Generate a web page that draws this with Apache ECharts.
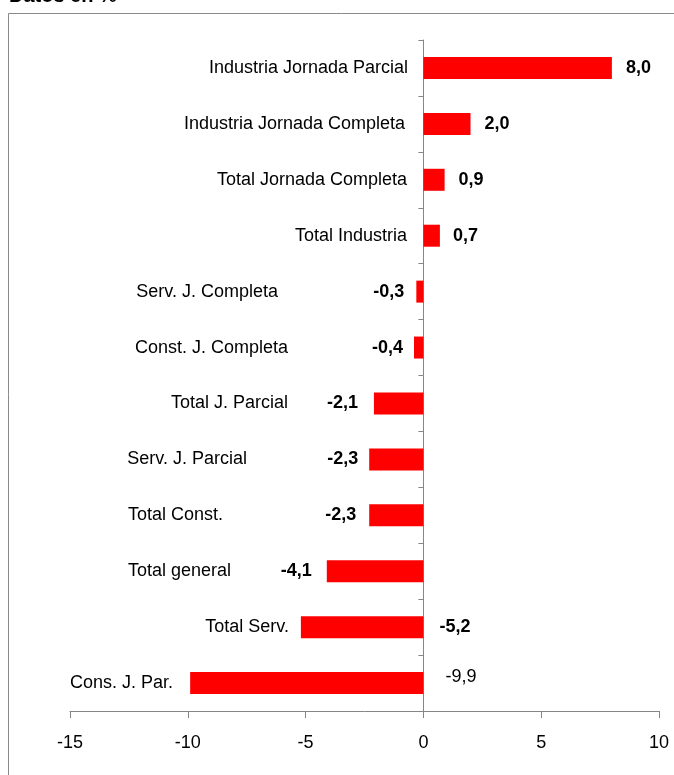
<!DOCTYPE html>
<html>
<head>
<meta charset="utf-8">
<style>
  html, body { margin: 0; padding: 0; background: #fff; }
  #chart { width: 674px; height: 775px; }
</style>
<script src="https://cdn.jsdelivr.net/npm/echarts@6/dist/echarts.min.js"></script>
</head>
<body>
<div id="chart"></div>
<script>
// ---- data ----
const categories = [
  'Industria Jornada Parcial',
  'Industria Jornada Completa',
  'Total Jornada Completa',
  'Total Industria',
  'Serv. J. Completa',
  'Const. J. Completa',
  'Total J. Parcial',
  'Serv. J. Parcial',
  'Total Const.',
  'Total general',
  'Total Serv.',
  'Cons. J. Par.'
];
const values = [8.0, 2.0, 0.9, 0.7, -0.3, -0.4, -2.1, -2.3, -2.3, -4.1, -5.2, -9.9];
const xTicks = [-15, -10, -5, 0, 5, 10];
const titleText = 'Datos en %';

// ---- layout (label placement, not data) ----
const nameLabelPad = [0, 3, 1, 1, 130, 120, 120, 161, 185, 177, 119, 235];
const valueLabelPlace = [
  {position: 'right', distance: 14},
  {position: 'right', distance: 14},
  {position: 'right', distance: 14},
  {position: 'right', distance: 13},
  {position: 'left', distance: 12},
  {position: 'left', distance: 11},
  {position: 'left', distance: 16},
  {position: 'left', distance: 11},
  {position: 'left', distance: 13},
  {position: 'left', distance: 15},
  {position: 'right', distance: 16},
  {position: 'right', distance: 22, offset: [0, -6], fontWeight: 'normal'}
];

const FONT = 'Arial, "Liberation Sans", sans-serif';
const fmt = v => v.toFixed(1).replace('.', ',');

const GRID_LEFT = 70;
const ZERO_X = 424;

const rich = {};
nameLabelPad.forEach((p, i) => {
  rich['r' + i] = {padding: [0, p, 0, 0], fontSize: 18, fontFamily: FONT, color: '#000'};
});

const seriesData = values.map((v, i) => ({
  value: v,
  label: Object.assign({show: true}, valueLabelPlace[i])
}));

const chart = echarts.init(document.getElementById('chart'), null, {renderer: 'canvas'});
chart.setOption({
  backgroundColor: '#fff',
  animation: false,
  title: {
    text: titleText,
    left: 9,
    top: -14,
    padding: 0,
    textStyle: {fontSize: 20, fontWeight: 'bold', fontFamily: FONT, color: '#000'}
  },
  graphic: [{
    type: 'rect',
    silent: true,
    shape: {x: 8.5, y: 13.5, width: 800, height: 900},
    style: {fill: null, stroke: '#8a8a8a', lineWidth: 1}
  }],
  grid: {left: GRID_LEFT, right: 15, top: 40, bottom: 64, outerBoundsMode: 'none'},
  xAxis: {
    type: 'value',
    min: xTicks[0],
    max: xTicks[xTicks.length - 1],
    interval: xTicks[1] - xTicks[0],
    axisLine: {show: true, lineStyle: {color: '#868686', width: 1}},
    axisTick: {show: true, length: 7, lineStyle: {color: '#868686'}},
    splitLine: {show: false},
    axisLabel: {
      margin: 23,
      fontSize: 18,
      fontFamily: FONT,
      color: '#000',
      hideOverlap: false,
      showMinLabel: true,
      showMaxLabel: true,
      formatter: v => String(v)
    }
  },
  yAxis: {
    type: 'category',
    data: categories,
    inverse: true,
    axisLine: {show: true, onZero: true, lineStyle: {color: '#868686', width: 1}},
    axisTick: {show: true, length: 5, lineStyle: {color: '#868686'}},
    axisLabel: {
      margin: 16 - (ZERO_X - GRID_LEFT),
      interval: 0,
      fontSize: 18,
      fontFamily: FONT,
      color: '#000',
      hideOverlap: false,
      formatter: (v, i) => '{r' + i + '|' + v + '}',
      rich: rich
    }
  },
  series: [{
    type: 'bar',
    data: seriesData,
    barWidth: 22,
    itemStyle: {color: '#ff0000'},
    label: {
      show: true,
      fontSize: 18,
      fontWeight: 'bold',
      fontFamily: FONT,
      color: '#000',
      formatter: p => fmt(p.value)
    }
  }]
});
</script>
</body>
</html>
